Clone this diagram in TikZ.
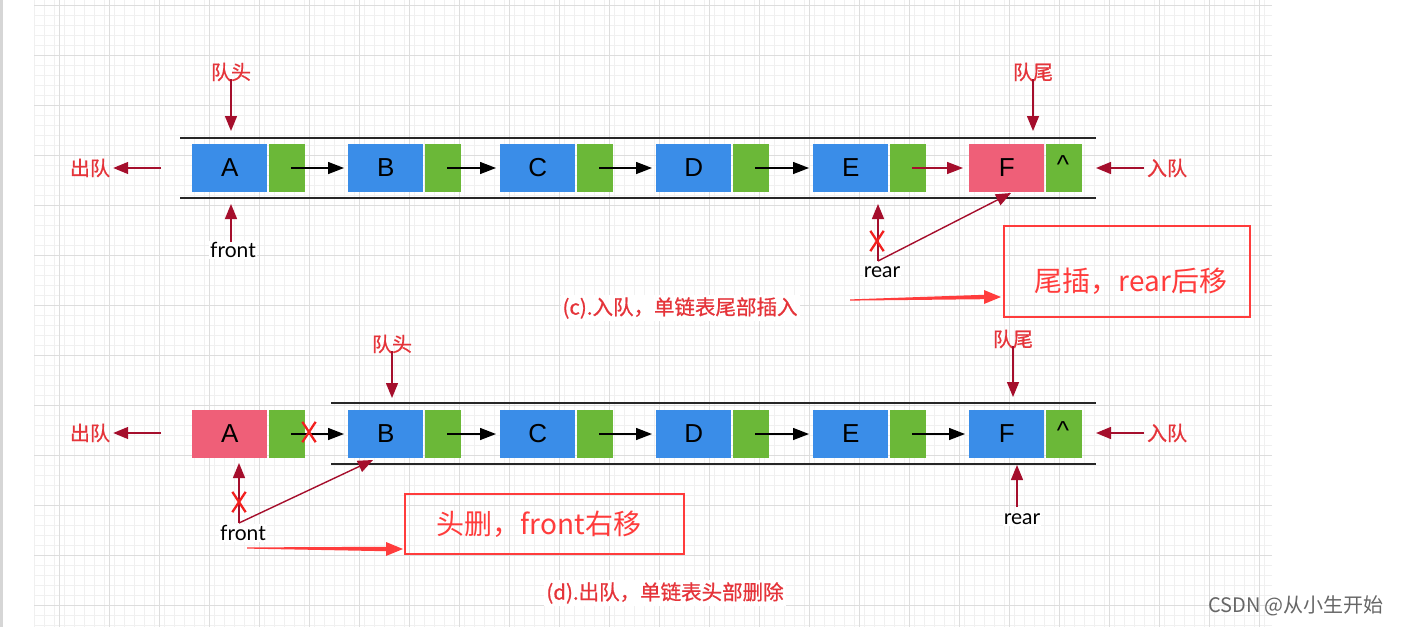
\documentclass[tikz,border=0pt]{standalone}
\usepackage{fontspec}
\setmainfont{Liberation Sans}
\newfontfamily\cjk{Noto Sans CJK SC}
\newfontfamily\cjkm[FakeBold=0.8]{Noto Sans CJK SC}
\newfontfamily\geo{Lato}
\usetikzlibrary{arrows.meta,shapes.misc,calc}
\definecolor{qblue}{HTML}{3A8DE8}
\definecolor{qgreen}{HTML}{6BB838}
\definecolor{qpink}{HTML}{EF5F78}
\definecolor{dred}{HTML}{A50E2C}
\definecolor{lred}{HTML}{E5343A}
\definecolor{bred}{HTML}{FF3C3C}
\definecolor{xred}{HTML}{F2201E}
\definecolor{gminor}{HTML}{F0F0F0}
\definecolor{gmajor}{HTML}{DDDDDD}
\definecolor{strip}{HTML}{D6D6D6}
\tikzset{
  valbox/.style={fill=qblue, minimum width=75pt, minimum height=48pt, inner sep=0pt, anchor=west, font=\fontsize{26}{26}\selectfont},
  nxtbox/.style={fill=qgreen, minimum width=36pt, minimum height=48pt, inner sep=0pt, anchor=west},
  nullmark/.style={inner sep=0pt, font=\fontsize{26}{26}\selectfont},
  link/.style={line width=1.4pt, -{Triangle[length=16pt,width=12pt]}},
  redlink/.style={link, draw=dred, -{Triangle[length=16pt,width=12pt,fill=dred]}},
  parrow/.style={line width=1.4pt, draw=dred, -{Triangle[length=15pt,width=12pt,fill=dred]}},
  track/.style={line width=1.5pt, draw=black!85},
  lbl/.style={text=lred, font=\cjkm\fontsize{20}{20}\selectfont, inner sep=1pt},
  ptrname/.style={fill=white, inner sep=1pt, font=\geo\fontsize{21}{21}\selectfont},
  xmark/.style={cross out, draw=xred, line width=2.3pt, minimum width=11pt, minimum height=18pt, inner sep=0pt},
  notebox/.style={draw=bred, line width=2pt, inner sep=0pt},
  notetext/.style={text=bred, font=\cjk\fontsize{28}{28}\selectfont, inner sep=0pt},
  caption/.style={text=lred, fill=white, font=\cjkm\fontsize{20.5}{20.5}\selectfont, inner sep=2pt},
}
\begin{document}
\begin{tikzpicture}[x=1pt,y=-1pt]
\useasboundingbox (0,0) rectangle (1402,627);
\fill[white] (0,0) rectangle (1402,627);
\fill[strip] (0,0) rectangle (3,627);
% grid
\foreach \x in {34,44,...,1272} \draw[gminor, line width=0.6pt] (\x,0) -- (\x,627);
\foreach \y in {5,15,...,625} \draw[gminor, line width=0.6pt] (34,\y) -- (1272,\y);
\foreach \x in {59,109,...,1259} \draw[gmajor, line width=0.7pt] (\x,0) -- (\x,627);
\foreach \y in {5,55,...,605} \draw[gmajor, line width=0.7pt] (34,\y) -- (1272,\y);

% ================= (c) top row =================
\draw[track] (180,138) -- (1096,138);
\draw[track] (180,198) -- (1096,198);
\node[valbox] (tA) at (192,168) {A};
\node[nxtbox] (tAn) at (269,168) {};
\node[valbox] (tB) at (348,168) {B};
\node[nxtbox] (tBn) at (425,168) {};
\node[valbox] (tC) at (500,168) {C};
\node[nxtbox] (tCn) at (577,168) {};
\node[valbox] (tD) at (656,168) {D};
\node[nxtbox] (tDn) at (733,168) {};
\node[valbox] (tE) at (813,168) {E};
\node[nxtbox] (tEn) at (890,168) {};
\node[valbox, fill=qpink] (tF) at (969,168) {F};
\node[nxtbox] (tFn) at (1046,168) {};
\node[nullmark] (tnull) at (1063,165) {\^{}};
\draw[link] ([xshift=4pt]tAn.center) -- ([xshift=-4pt]tB.west);
\draw[link] ([xshift=4pt]tBn.center) -- ([xshift=-4pt]tC.west);
\draw[link] ([xshift=4pt]tCn.center) -- ([xshift=-4pt]tD.west);
\draw[link] ([xshift=4pt]tDn.center) -- ([xshift=-4pt]tE.west);
\draw[redlink] ([xshift=4pt]tEn.center) -- ([xshift=-6pt]tF.west);

\node[lbl] (thead) at (231,72) {队头};
\coordinate (theadtip) at (231,131);
\draw[parrow] ([yshift=3pt]thead.south) -- (theadtip);
\node[lbl] (ttail) at (1033,72) {队尾};
\coordinate (ttailtip) at (1033,131);
\draw[parrow] ([yshift=3pt]ttail.south) -- (ttailtip);
\node[lbl] (tout) at (90,168) {出队};
\coordinate (touts) at (161,168);
\draw[parrow] (touts) -- ([xshift=2pt]tout.east);
\node[lbl] (tin) at (1167,168) {入队};
\coordinate (tint) at (1096,168);
\draw[parrow] ([xshift=-2pt]tin.west) -- (tint);

\node[ptrname] (tfront) at (233,250) {front};
\coordinate (tfs) at (231,242);
\coordinate (tft) at (231,204);
\draw[parrow] (tfs) -- (tft);

\node[ptrname] (trear) at (882,272) {rear};
\coordinate (trs) at (878,261);
\coordinate (trt) at (878,204);
\coordinate (trn) at (1011,193);
\draw[parrow] (trs) -- (trt);
\draw[parrow] (trs) -- (trn);
\node[xmark] (tx) at (877,241) {};

\node[notebox, minimum width=246pt, minimum height=91pt] (tnote) at (1127,271) {};
\node[notetext] (tnotet) at (1131,281) {尾插，rear后移};
\coordinate (tfa) at (850,300);
\coordinate (tfb) at (1001,297);
\fill[bred] ($(tfa)+(0,-0.6)$) -- ($(tfb)+(-17,-2.2)$) -- ($(tfb)+(-17,-7)$) -- (tfb) -- ($(tfb)+(-17,7)$) -- ($(tfb)+(-17,2.2)$) -- ($(tfa)+(0,0.6)$) -- cycle;
\node[caption] (tcap) at (680,308) {(c).入队，单链表尾部插入};

% ================= (d) bottom row =================
\draw[track] (331,403) -- (1096,403);
\draw[track] (331,464) -- (1096,464);
\node[valbox, fill=qpink] (bA) at (192,434) {A};
\node[nxtbox] (bAn) at (269,434) {};
\node[valbox] (bB) at (348,434) {B};
\node[nxtbox] (bBn) at (425,434) {};
\node[valbox] (bC) at (500,434) {C};
\node[nxtbox] (bCn) at (577,434) {};
\node[valbox] (bD) at (656,434) {D};
\node[nxtbox] (bDn) at (733,434) {};
\node[valbox] (bE) at (813,434) {E};
\node[nxtbox] (bEn) at (890,434) {};
\node[valbox] (bF) at (969,434) {F};
\node[nxtbox] (bFn) at (1046,434) {};
\node[nullmark] (bnull) at (1063,431) {\^{}};
\draw[link] ([xshift=4pt]bAn.center) -- ([xshift=-4pt]bB.west);
\draw[link] ([xshift=4pt]bBn.center) -- ([xshift=-4pt]bC.west);
\draw[link] ([xshift=4pt]bCn.center) -- ([xshift=-4pt]bD.west);
\draw[link] ([xshift=4pt]bDn.center) -- ([xshift=-4pt]bE.west);
\draw[link] ([xshift=4pt]bEn.center) -- ([xshift=-4pt]bF.west);
\node[xmark] (bx1) at (309,432) {};

\node[lbl] (bhead) at (392,344) {队头};
\coordinate (bheadtip) at (392,398);
\draw[parrow] ([yshift=3pt]bhead.south) -- (bheadtip);
\node[lbl] (btail) at (1013,339) {队尾};
\coordinate (btailtip) at (1013,397);
\draw[parrow] ([yshift=3pt]btail.south) -- (btailtip);
\node[lbl] (bout) at (90,433) {出队};
\coordinate (bouts) at (161,433);
\draw[parrow] (bouts) -- ([xshift=2pt]bout.east);
\node[lbl] (bin) at (1167,433) {入队};
\coordinate (bint) at (1096,433);
\draw[parrow] ([xshift=-2pt]bin.west) -- (bint);

\node[ptrname] (bfront) at (243,533) {front};
\coordinate (bfs) at (239,523);
\coordinate (bft) at (239,463);
\coordinate (bfn) at (373,460);
\draw[parrow] (bfs) -- (bft);
\draw[parrow] (bfs) -- (bfn);
\node[xmark] (bx2) at (239,502) {};

\node[ptrname] (brear) at (1022,519) {rear};
\coordinate (brs) at (1017,507);
\coordinate (brt) at (1017,465);
\draw[parrow] (brs) -- (brt);

\node[notebox, minimum width=279pt, minimum height=60pt] (bnote) at (544.5,524) {};
\node[notetext] (bnotet) at (539,524) {头删，front右移};
\coordinate (bfa) at (247,548);
\coordinate (bfb) at (403,549);
\fill[bred] ($(bfa)+(0,-0.6)$) -- ($(bfb)+(-17,-2.2)$) -- ($(bfb)+(-17,-7)$) -- (bfb) -- ($(bfb)+(-17,7)$) -- ($(bfb)+(-17,2.2)$) -- ($(bfa)+(0,0.6)$) -- cycle;
\node[caption] (bcap) at (665,593) {(d).出队，单链表头部删除};

\node[text=black!60, font=\cjk\fontsize{20}{20}\selectfont, inner sep=0pt] (wm) at (1296,606) {CSDN @从小生开始};
\end{tikzpicture}
\end{document}
